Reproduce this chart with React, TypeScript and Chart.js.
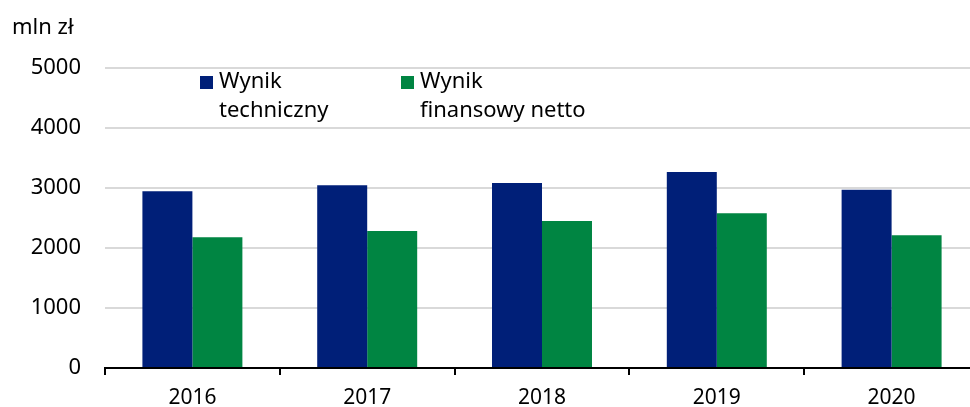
import React, { useEffect, useRef } from "react";
import { Chart, registerables } from "chart.js";

Chart.register(...registerables);

const categories = ["2016", "2017", "2018", "2019", "2020"];
const seriesNames = [["Wynik", "techniczny"], ["Wynik", "finansowy netto"]];
const technicalResult = [2945, 3045, 3083, 3267, 2972];
const netFinancialResult = [2178, 2283, 2450, 2578, 2212];
const yTicks = [0, 1000, 2000, 3000, 4000, 5000];
const unitLabel = "mln zł";

const FONT = "'Noto Sans', sans-serif";

const overlayPlugin = {
  id: "overlay",
  afterDraw(chart: any) {
    const ctx = chart.ctx;
    ctx.save();
    ctx.fillStyle = "#000";
    ctx.font = `22px ${FONT}`;
    ctx.textBaseline = "middle";
    ctx.textAlign = "left";
    ctx.fillText(unitLabel, 12, 28);
    const legendX = [200, 401];
    chart.data.datasets.forEach((ds: any, i: number) => {
      const x = legendX[i];
      ctx.fillStyle = ds.backgroundColor;
      ctx.fillRect(x, 76, 13, 13);
      ctx.fillStyle = "#000";
      const lines: string[] = seriesNames[i];
      lines.forEach((ln, j) => {
        ctx.fillText(ln, x + 19, 82 + j * 29);
      });
    });
    ctx.restore();
  },
};

const CANVAS_W = 979;

export default function App() {
  const ref = useRef<HTMLCanvasElement>(null);
  useEffect(() => {
    if (!ref.current) return;
    const chart = new Chart(ref.current, {
      type: "bar",
      data: {
        labels: categories,
        datasets: [
          {
            label: seriesNames[0].join(" "),
            data: technicalResult,
            backgroundColor: "#001F78",
            borderWidth: 0,
          },
          {
            label: seriesNames[1].join(" "),
            data: netFinancialResult,
            backgroundColor: "#008542",
            borderWidth: 0,
          },
        ],
      },
      options: {
        animation: false,
        responsive: false,
        maintainAspectRatio: false,
        layout: { padding: { top: 68, right: 0, left: 0, bottom: 0 } },
        datasets: {
          bar: { categoryPercentage: 0.572, barPercentage: 1 },
        },
        plugins: {
          legend: { display: false },
          tooltip: { enabled: false },
          title: { display: false },
        },
        scales: {
          x: {
            grid: {
              offset: true,
              drawOnChartArea: false,
              drawTicks: true,
              tickLength: 7,
              color: "#000",
              lineWidth: 2,
            },
            border: { display: true, color: "#000", width: 2 },
            ticks: {
              color: "#000",
              font: { family: FONT, size: 21 },
              padding: 10,
              maxRotation: 0,
            },
            afterFit(scale: any) {
              scale.height = 39;
            },
          },
          y: {
            min: 0,
            max: 5000,
            afterBuildTicks(scale: any) {
              scale.ticks = yTicks.map((v) => ({ value: v }));
            },
            grid: {
              drawTicks: false,
              color: "#d9d9d9",
              lineWidth: 2,
            },
            border: { display: false },
            ticks: {
              color: "#000",
              font: { family: FONT, size: 22 },
              padding: 24,
              callback: (v: any) => String(v),
            },
            afterFit(scale: any) {
              scale.width = 105;
            },
          },
        },
      },
      plugins: [overlayPlugin],
    });
    return () => chart.destroy();
  }, []);
  return (
    <div style={{ position: "fixed", left: 0, top: 0, width: 970, height: 407, overflow: "hidden", background: "#fff" }}>
      <canvas ref={ref} width={CANVAS_W} height={407} style={{ width: CANVAS_W, height: 407, display: "block" }} />
    </div>
  );
}
